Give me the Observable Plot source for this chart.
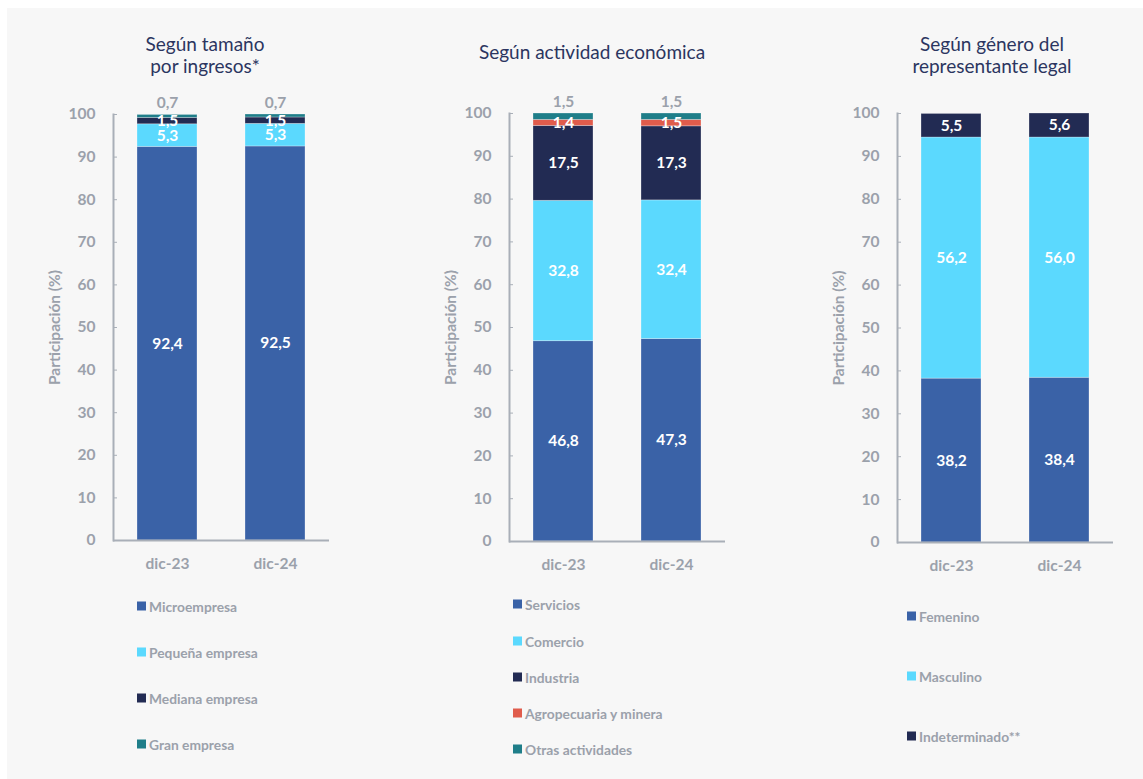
<!DOCTYPE html>
<html><head><meta charset="utf-8">
<script src="https://cdn.jsdelivr.net/npm/d3@7"></script>
<script src="https://cdn.jsdelivr.net/npm/@observablehq/plot@0.6"></script>
<style>
body{margin:0;background:#fff;font-family:Lato,"Noto Sans",sans-serif;}
#bg{position:absolute;left:7px;top:8px;width:1136px;height:771px;background:#f7f7f7;}
.panel{position:absolute;}
.title{position:absolute;transform:translateX(-50%);text-align:center;color:#2b3560;font-size:19px;line-height:22px;white-space:nowrap;}
.leg{position:absolute;font-size:13.8px;font-weight:bold;color:#9ba1ab;white-space:nowrap;display:flex;align-items:center;transform:translateY(-50%);}
.leg i{display:inline-block;width:9px;height:9px;margin-right:3px;}
</style></head><body>
<div id="bg"></div>
<script>
// ---- data ----
const fechas = ["dic-23", "dic-24"];
const yTicks = [0, 10, 20, 30, 40, 50, 60, 70, 80, 90, 100];

const tamanoTitulo = ["Según tamaño", "por ingresos*"];
const tamanoCats = ["Microempresa", "Pequeña empresa", "Mediana empresa", "Gran empresa"];
const tamanoDic23 = [92.4, 5.3, 1.5, 0.7];
const tamanoDic24 = [92.5, 5.3, 1.5, 0.7];
const tamanoColores = ["#3a62a7", "#5bd9fe", "#222b53", "#1f7e89"];

const actividadTitulo = ["Según actividad económica"];
const actividadCats = ["Servicios", "Comercio", "Industria", "Agropecuaria y minera", "Otras actividades"];
const actividadDic23 = [46.8, 32.8, 17.5, 1.4, 1.5];
const actividadDic24 = [47.3, 32.4, 17.3, 1.5, 1.5];
const actividadColores = ["#3a62a7", "#5bd9fe", "#222b53", "#e05c4c", "#1f7e89"];

const generoTitulo = ["Según género del", "representante legal"];
const generoCats = ["Femenino", "Masculino", "Indeterminado**"];
const generoDic23 = [38.2, 56.2, 5.5];
const generoDic24 = [38.4, 56.0, 5.6];
const generoColores = ["#3a62a7", "#5bd9fe", "#222b53"];

// ---- drawing ----
const gray = "#9ba1ab";
const axisColor = "#a9afb8";
const fmt = v => d3.format(".1f")(v).replace(".", ",");

function panel({titulo, cats, v23, v24, colores, left, y100, y0, topCat, titleX, titleY, legX, legYs}) {
  const data = [];
  fechas.forEach((f, i) => {
    const vals = i === 0 ? v23 : v24;
    cats.forEach((c, j) => data.push({fecha: f, cat: c, value: vals[j]}));
  });
  const svgTop = 70;
  const height = 600 - svgTop;
  const chart = Plot.plot({
    width: 360, height,
    marginLeft: 113, marginRight: 31,
    marginTop: y100 - svgTop, marginBottom: height - (y0 - svgTop),
    style: {background: "transparent", fontFamily: "Lato, 'Noto Sans', sans-serif", overflow: "visible"},
    x: {domain: fechas, paddingInner: 0.444, paddingOuter: 0.222, label: null},
    y: {domain: [0, 100], label: null},
    color: {domain: cats, range: colores},
    marks: [
      Plot.barY(data, {x: "fecha", y: "value", fill: "cat", stroke: "#ffffff", strokeOpacity: 0.35, strokeWidth: 0.8}),
      Plot.text(data.filter(d => d.cat !== topCat), Plot.stackY({
        x: "fecha", y: "value", z: "cat", text: d => fmt(d.value),
        fill: "white", fontWeight: "bold", fontSize: 15.5
      })),
      Plot.text(data.filter(d => d.cat === topCat), {
        x: "fecha", y: () => 100, text: d => fmt(d.value), dy: -11,
        fill: gray, fontWeight: "bold", fontSize: 15.5
      }),
      Plot.axisY({ticks: yTicks, tickSize: -4, tickPadding: 22, fill: gray, stroke: axisColor, fontSize: 15.5, fontWeight: "bold", label: null}),
      Plot.axisX({tickSize: 0, tickPadding: 17, fill: gray, fontSize: 15.5, fontWeight: "bold", label: null}),
      Plot.text(["Participación (%)"], {frameAnchor: "left", textAnchor: "middle", text: d => d, rotate: -90, dx: -58, fill: gray, fontWeight: "bold", fontSize: 15.5}),
      Plot.ruleY([0], {stroke: axisColor, strokeWidth: 2}),
      Plot.frame({anchor: "left", stroke: axisColor, strokeWidth: 2})
    ]
  });
  chart.classList.add("panel");
  chart.style.left = left + "px";
  chart.style.top = svgTop + "px";
  document.body.appendChild(chart);

  const t = document.createElement("div");
  t.className = "title";
  t.style.left = titleX + "px";
  t.style.top = titleY + "px";
  t.innerHTML = titulo.join("<br>");
  document.body.appendChild(t);

  cats.forEach((c, j) => {
    const l = document.createElement("div");
    l.className = "leg";
    l.style.left = legX + "px";
    l.style.top = legYs[j] + "px";
    const sw = document.createElement("i");
    sw.style.background = colores[j];
    l.appendChild(sw);
    l.appendChild(document.createTextNode(c));
    document.body.appendChild(l);
  });
}

panel({titulo: tamanoTitulo, cats: tamanoCats, v23: tamanoDic23, v24: tamanoDic24, colores: tamanoColores,
  left: 0, y100: 114, y0: 540, topCat: "Gran empresa", titleX: 205, titleY: 33,
  legX: 137, legYs: [606, 652, 698, 744]});
panel({titulo: actividadTitulo, cats: actividadCats, v23: actividadDic23, v24: actividadDic24, colores: actividadColores,
  left: 396, y100: 113, y0: 541, topCat: "Otras actividades", titleX: 592, titleY: 41,
  legX: 513, legYs: [604, 641, 677, 713, 749]});
panel({titulo: generoTitulo, cats: generoCats, v23: generoDic23, v24: generoDic24, colores: generoColores,
  left: 784, y100: 113, y0: 542, topCat: null, titleX: 992, titleY: 33,
  legX: 907, legYs: [616, 676, 736]});
</script>
</body></html>
